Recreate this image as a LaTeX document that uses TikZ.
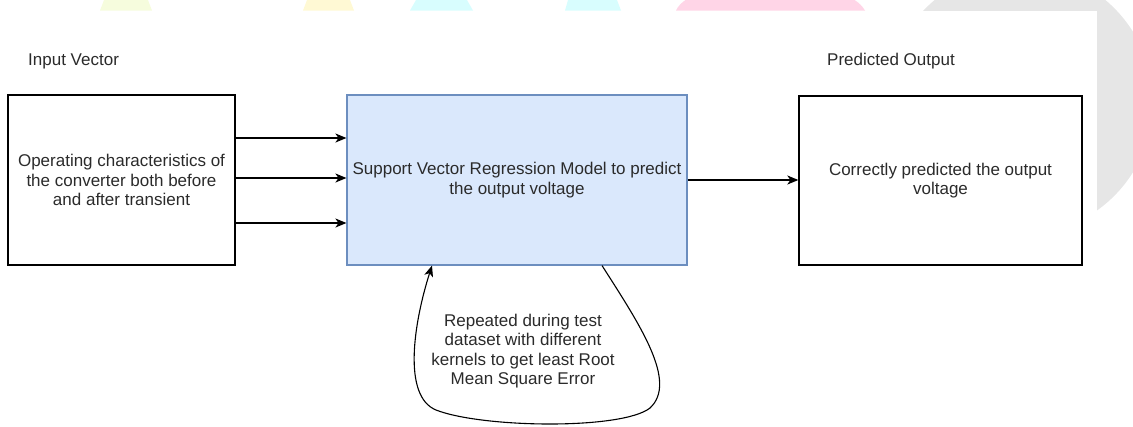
\documentclass[tikz,border=0pt]{standalone}
\usepackage{fontspec}
\setmainfont{Liberation Sans}
\usetikzlibrary{arrows.meta}
\definecolor{txt}{HTML}{2B2B2B}
\definecolor{svrfill}{HTML}{DAE8FC}
\definecolor{svrdraw}{HTML}{6C8EBF}
\definecolor{lime}{HTML}{F6FCDD}
\definecolor{lemon}{HTML}{FFF9D4}
\definecolor{aqua}{HTML}{D8FDFE}
\definecolor{rose}{HTML}{FFD5E7}
\definecolor{mist}{HTML}{E6E6E6}
\tikzset{
  lbl/.style={font=\fontsize{17}{19.6}\selectfont, text=txt, align=center, inner sep=0pt},
  block/.style={lbl, draw=black, line width=1.3pt, fill=white},
  svrblock/.style={lbl, draw=svrdraw, line width=1.1pt, fill=svrfill},
  arr/.style={line width=1.3pt, -{Stealth[length=11pt,width=9pt,inset=3pt]}}
}
\begin{document}
\begin{tikzpicture}[x=1pt,y=-1pt]
\useasboundingbox (0,0) rectangle (1133,426);
% page decorations behind the figure
\fill[lime]  (100,10.5) -- (104,0) -- (148,0) -- (152,10.5) -- cycle;
\fill[lemon] (303,10.5) -- (307,0) -- (350,0) -- (354,10.5) -- cycle;
\fill[aqua]  (410,10.5) -- (416,0) -- (467,0) -- (473,10.5) -- cycle;
\fill[aqua]  (565,10.5) -- (568,0) -- (617,0) -- (621,10.5) -- cycle;
\fill[rose]  (676,10.5) .. controls (680,2) and (690,-4) .. (700,-6) -- (840,-6) .. controls (850,-4) and (860,2) .. (865,10.5) -- cycle;
\fill[mist]  (1020,102) circle[radius=133];
\fill[white] (0,10.5) rectangle (1097,426);

% blocks
\node[block, minimum width=227pt, minimum height=170pt] (inbox) at (121.5,180)
  {Operating characteristics of\\the converter both before\\and after transient};
\node[svrblock, minimum width=340pt, minimum height=170pt] (svr) at (517,180)
  {Support Vector Regression Model to predict\\the output voltage};
\node[block, minimum width=283pt, minimum height=169pt] (outbox) at (940.5,180.5)
  {Correctly predicted the output\\voltage};

% headings
\node[lbl, anchor=west] (inlbl) at (28,61) {Input Vector};
\node[lbl, anchor=west] (outlbl) at (827,61) {Predicted Output};

% input connectors
\draw[arr] ([yshift=42pt]inbox.east) -- ([yshift=42pt]svr.west);
\draw[arr] ([yshift=2pt]inbox.east) -- ([yshift=2pt]svr.west);
\draw[arr] ([yshift=-43pt]inbox.east) -- ([yshift=-43pt]svr.west);

% output connector
\draw[arr] (svr.east) -- (svr.east -| outbox.west);

% feedback loop
\coordinate (loopstart) at ([xshift=85pt]svr.south);
\coordinate (loopend) at ([xshift=-85pt]svr.south);
\draw[arr, line width=1.1pt] (loopstart) .. controls (640,325) and (678,382) .. (650,408)
  .. controls (622,430) and (482,428) .. (436,410)
  .. controls (402,396) and (414,322) .. (loopend);
\node[lbl] (looplbl) at (523,351)
  {Repeated during test\\dataset with different\\kernels to get least Root\\Mean Square Error};
\end{tikzpicture}
\end{document}
